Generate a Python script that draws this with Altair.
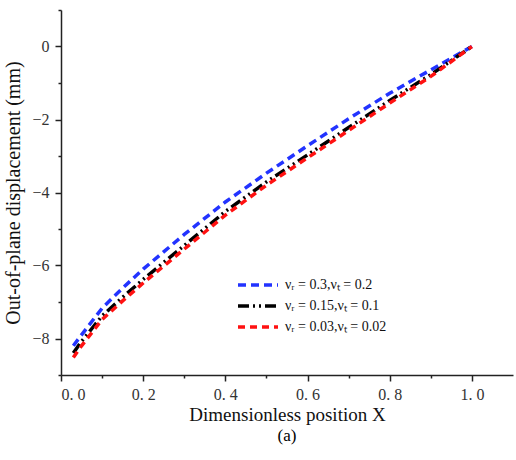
import altair as alt
import pandas as pd

x_vals = [0.03, 0.05, 0.1, 0.15, 0.2, 0.3, 0.4, 0.5, 0.6, 0.7, 0.8, 0.9, 1.0]
blue_vals = [-8.20, -7.90, -7.17, -6.62, -6.10, -5.15, -4.26, -3.47, -2.72, -1.98, -1.28, -0.64, 0.0]
black_vals = [-8.40, -8.08, -7.38, -6.87, -6.38, -5.45, -4.52, -3.71, -2.97, -2.22, -1.48, -0.77, 0.0]
red_vals = [-8.52, -8.20, -7.48, -6.97, -6.48, -5.55, -4.62, -3.80, -3.05, -2.30, -1.55, -0.82, 0.0]

series_names = [
    "\u03bd\u1d63 = 0.3,\u03bd\u209c = 0.2",
    "\u03bd\u1d63 = 0.15,\u03bd\u209c = 0.1",
    "\u03bd\u1d63 = 0.03,\u03bd\u209c = 0.02",
]
series_colors = ["#2233ff", "#000000", "#ff1111"]
series_dashes = [[8, 5], [11, 4, 2, 4, 2, 4], [7, 5]]

rows = []
for name, vals in zip(series_names, [blue_vals, black_vals, red_vals]):
    for xv, yv in zip(x_vals, vals):
        rows.append({"X": xv, "Y": yv, "series": name})
df = pd.DataFrame(rows)

serif = "Liberation Serif"

common_axis = dict(
    grid=False,
    labelFont=serif,
    titleFont=serif,
    labelFontSize=16,
    titleFontWeight="normal",
    labelColor="#333333",
    titleColor="#111111",
    domainColor="#222222",
    tickColor="#222222",
    domainWidth=1.5,
    tickWidth=1.5,
)

chart = alt.Chart(df).mark_line(strokeWidth=3.5).encode(
    x=alt.X(
        "X:Q",
        scale=alt.Scale(domain=[0, 1.1], nice=False, zero=False),
        axis=alt.Axis(
            title="Dimensionless position X",
            values=[0, 0.1, 0.2, 0.3, 0.4, 0.5, 0.6, 0.7, 0.8, 0.9, 1.0],
            labelExpr="(round(datum.value*10) % 2 == 0) ? replace(format(datum.value, '.1f'), '.', '. ') : ''",
            tickSize={"condition": {"test": "round(datum.value*10) % 2 == 0", "value": 6}, "value": 3},
            labelPadding=5,
            titlePadding=3,
            titleFontSize=19,
            **common_axis,
        ),
    ),
    y=alt.Y(
        "Y:Q",
        scale=alt.Scale(domain=[-9, 1], nice=False, zero=False),
        axis=alt.Axis(
            title="Out-of-plane displacement (mm)",
            values=[-9, -8, -7, -6, -5, -4, -3, -2, -1, 0, 1],
            labelExpr="(datum.value % 2 == 0) ? format(datum.value, 'd') : ''",
            tickSize={"condition": {"test": "datum.value % 2 == 0", "value": 6}, "value": 3},
            labelPadding=6,
            titlePadding=8,
            titleFontSize=20,
            **common_axis,
        ),
    ),
    color=alt.Color(
        "series:N",
        scale=alt.Scale(domain=series_names, range=series_colors),
        legend=alt.Legend(
            title=None,
            orient="none",
            legendX=185,
            legendY=263,
            symbolType="M-2,0H2",
            symbolSize=400,
            symbolStrokeWidth=3.5,
            labelFont=serif,
            labelFontSize=14,
            labelColor="#111111",
            labelOffset=15,
            rowPadding=2,
        ),
    ),
    strokeDash=alt.StrokeDash(
        "series:N",
        scale=alt.Scale(domain=series_names, range=series_dashes),
        legend=None,
    ),
).properties(
    width=452,
    height=365,
    title=alt.TitleParams("(a)", orient="bottom", font=serif, fontSize=17, fontWeight="normal", offset=4),
    padding={"left": 61, "top": 10, "right": 3, "bottom": 85},
    autosize=alt.AutoSizeParams(type="none"),
    background="white",
).configure_view(
    stroke=None
)

chart.save("out.html", embed_options={"renderer": "svg", "actions": False})
